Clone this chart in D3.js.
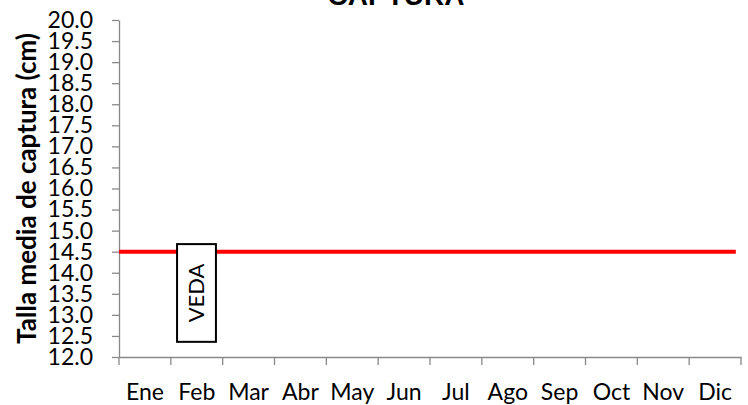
<!DOCTYPE html>
<html><head><meta charset="utf-8">
<script src="https://cdn.jsdelivr.net/npm/d3@7"></script>
<style>body{margin:0;background:#fff}</style>
</head><body>
<svg id="c" width="748" height="405"></svg>
<script>
const months = ["Ene","Feb","Mar","Abr","May","Jun","Jul","Ago","Sep","Oct","Nov","Dic"];
const yTicks = [12.0,12.5,13.0,13.5,14.0,14.5,15.0,15.5,16.0,16.5,17.0,17.5,18.0,18.5,19.0,19.5,20.0];
const tallaMedia = [14.5];            // talla media de captura (cm)
const tallaSpan = [0, 11.9];          // extent of the reference line, in months
const vedaMonths = [1.12, 1.87];      // closed season box (month units)
const vedaRange = [12.36, 14.68];     // box height in cm
const title = "CAPTURA";
const yLabel = "Talla media de captura (cm)";
const vedaLabel = "VEDA";

const svg = d3.select("#c");
const L = 119, R = 741, T = 20, B = 357;
const axisColor = "#898989";
const font = "Lato, 'Open Sans', sans-serif";

const xb = d3.scaleBand().domain(months).range([L, R]).padding(0);
const xm = d3.scaleLinear().domain([0, 12]).range([L, R]);
const y = d3.scaleLinear().domain([12, 20]).range([B, T]);

// title
svg.append("text").attr("x", 396).attr("y", 5).attr("text-anchor", "middle")
  .attr("font-family", "'Liberation Sans', Arial, sans-serif").attr("font-weight", "bold")
  .attr("font-size", 28).text(title);

// y axis
const yAx = svg.append("g").attr("transform", `translate(${L},0)`)
  .call(d3.axisLeft(y).tickValues(yTicks).tickFormat(d3.format(".1f")).tickSizeInner(7).tickSizeOuter(0).tickPadding(19));
yAx.select(".domain").attr("stroke", axisColor).attr("stroke-width", 1.3);
yAx.selectAll(".tick line").attr("stroke", axisColor).attr("stroke-width", 1.3);
yAx.selectAll("text").attr("font-family", font).attr("font-size", 23).attr("fill", "#000");

// x axis
const xAx = svg.append("g").attr("transform", `translate(0,${B})`)
  .call(d3.axisBottom(xb).tickSize(0).tickPadding(43));
xAx.select(".domain").attr("stroke", axisColor).attr("stroke-width", 1.3);
xAx.selectAll(".tick line").remove();
xAx.selectAll("text").attr("font-family", font).attr("font-size", 23).attr("fill", "#000").attr("dy", 0);
xAx.selectAll(".bnd").data(d3.range(13)).enter().append("line")
  .attr("x1", d => xm(d)).attr("x2", d => xm(d)).attr("y1", 0).attr("y2", 8)
  .attr("stroke", axisColor).attr("stroke-width", 1.3);

// y label
svg.append("text").attr("transform", `translate(36,${(T + B) / 2}) rotate(-90)`)
  .attr("text-anchor", "middle").attr("font-family", font).attr("font-weight", "bold")
  .attr("font-size", 26).text(yLabel);

// red line
svg.selectAll(".talla").data(tallaMedia).enter().append("line")
  .attr("x1", xm(tallaSpan[0])).attr("x2", xm(tallaSpan[1]))
  .attr("y1", d => y(d)).attr("y2", d => y(d))
  .attr("stroke", "#ff0000").attr("stroke-width", 4);

// VEDA box
svg.append("rect").attr("x", xm(vedaMonths[0])).attr("y", y(vedaRange[1]))
  .attr("width", xm(vedaMonths[1]) - xm(vedaMonths[0]))
  .attr("height", y(vedaRange[0]) - y(vedaRange[1]))
  .attr("fill", "#fff").attr("stroke", "#000").attr("stroke-width", 2);
const vx = (xm(vedaMonths[0]) + xm(vedaMonths[1])) / 2;
const vy = (y(vedaRange[0]) + y(vedaRange[1])) / 2;
svg.append("text").attr("transform", `translate(${vx + 8},${vy}) rotate(-90)`)
  .attr("text-anchor", "middle").attr("font-family", font).attr("font-size", 22)
  .text(vedaLabel);
</script>
</body></html>
